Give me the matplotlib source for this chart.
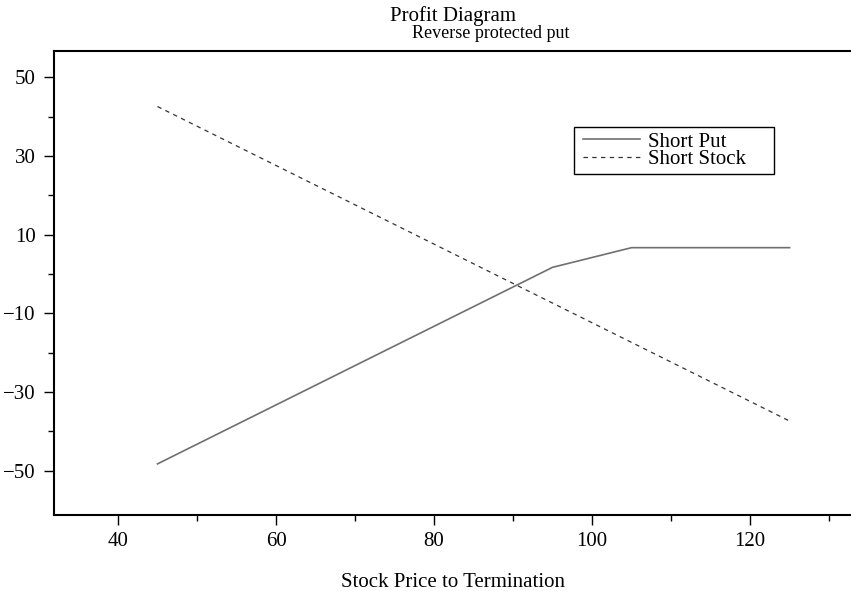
import matplotlib
matplotlib.use("Agg")
import matplotlib.pyplot as plt
from matplotlib.patches import Rectangle

# Data
stock_price = [45, 55, 65, 75, 85, 95, 105, 115, 125]
short_put = [-48.3, -38.3, -28.3, -18.3, -8.3, 1.7, 6.7, 6.7, 6.7]
short_stock = [42.6, 32.6, 22.6, 12.6, 2.6, -7.4, -17.4, -27.4, -37.4]
x_ticks = [40, 60, 80, 100, 120]
x_minor = [50, 70, 90, 110, 130]
y_ticks = [50, 30, 10, -10, -30, -50]
y_minor = [40, 20, 0, -20, -40]

plt.rcParams['font.family'] = ['Liberation Serif', 'DejaVu Serif']

W, H = 851, 591
fig = plt.figure(figsize=(W / 100, H / 100), dpi=100)
ax = fig.add_axes([54 / W, 1 - 515 / H, (852 - 54) / W, (515 - 50.7) / H])

ax.plot(stock_price, short_put, color='#707070', lw=1.2, label='Short Put')
ax.plot(stock_price, short_stock, color='#333333', lw=0.9, dashes=(3.5, 3.5),
        label='Short Stock')

ax.set_xlim(31.9, 132.9)
ax.set_ylim(-61.3, 56.8)
ax.set_xticks(x_ticks)
ax.set_yticks(y_ticks)
ax.set_xticks(x_minor, minor=True)
ax.set_yticks(y_minor, minor=True)
ax.set_yticklabels([str(v).replace('-', '\u2212') for v in y_ticks])

ax.tick_params(which='major', direction='out', length=7, width=1.0,
               labelsize=15, pad=5)
ax.tick_params(which='minor', direction='out', length=4, width=1.0)
ax.tick_params(axis='y', which='major', pad=6)

for s in ['left', 'bottom', 'top']:
    ax.spines[s].set_linewidth(1.5)
ax.spines['right'].set_visible(False)

ax.set_xlabel('Stock Price to Termination', fontsize=15, labelpad=16)

fig.text(453 / W, 1 - 20.5 / H, 'Profit Diagram', ha='center', va='baseline',
         fontsize=15)
fig.text(491 / W, 1 - 37.5 / H, 'Reverse protected put', ha='center',
         va='baseline', fontsize=13)

leg = ax.legend(loc='upper left', bbox_to_anchor=(583 / W, 1 - 132 / H),
                bbox_transform=fig.transFigure, frameon=False, fontsize=15,
                borderpad=0, labelspacing=-0.08, handlelength=2.74,
                handletextpad=0.38, borderaxespad=0)

fig.patches.append(Rectangle((574.3 / W, 1 - 173.7 / H), (774 - 574.3) / W,
                             (173.7 - 127.3) / H, transform=fig.transFigure,
                             fill=False, edgecolor='black', lw=1.0,
                             zorder=5))

fig.savefig('out.png', dpi=100)
